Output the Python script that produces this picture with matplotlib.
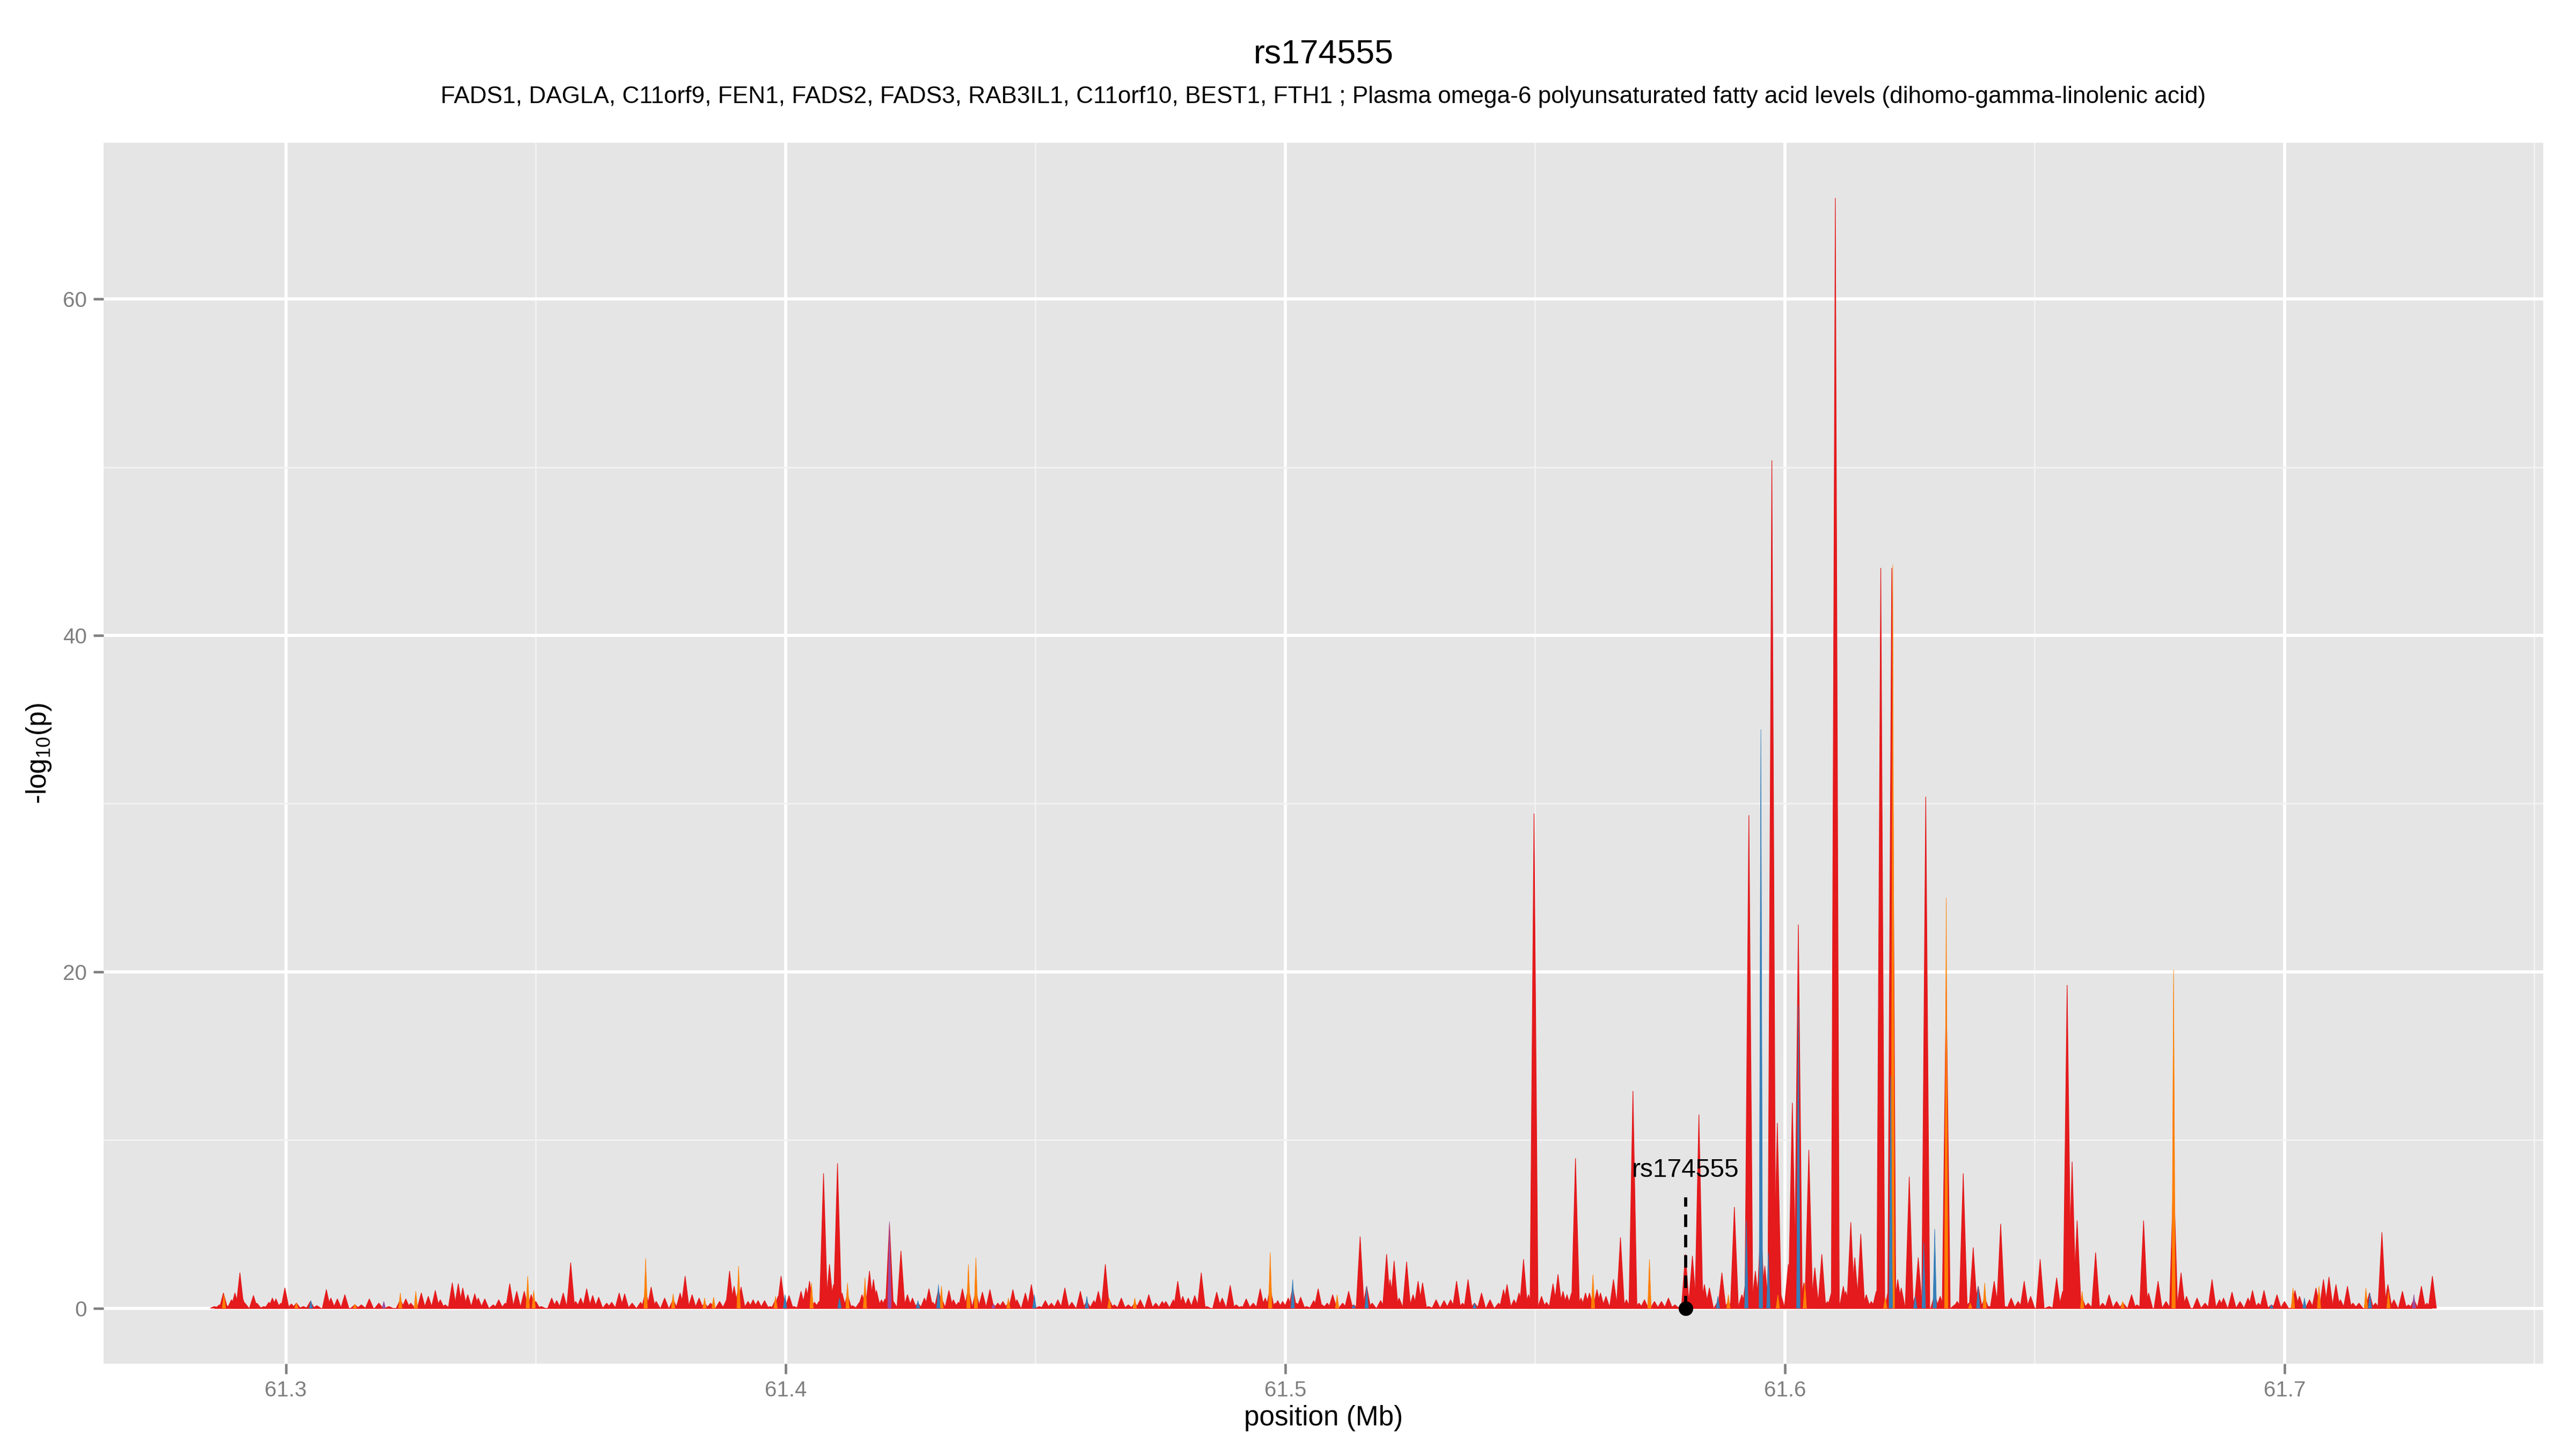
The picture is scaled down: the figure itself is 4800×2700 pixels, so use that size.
import matplotlib
matplotlib.use("Agg")
import matplotlib.pyplot as plt
from matplotlib.collections import PolyCollection

plt.rcParams['font.family'] = ['Liberation Sans', 'DejaVu Sans']
plt.rcParams['mathtext.default'] = 'regular'

# SNPs as (position in Mb, -log10 p), one list per colour class
red_snps = [
    (61.2857, 0.1), (61.2867, 0.2), (61.2875, 0.9), (61.2880, 0.2), (61.2891, 0.5), (61.2898, 0.9),
    (61.2903, 0.5), (61.2908, 2.1), (61.2913, 0.6), (61.2918, 0.3), (61.2935, 0.75), (61.2942, 0.3),
    (61.2956, 0.1), (61.2966, 0.35), (61.2973, 0.6), (61.2980, 0.55), (61.2990, 0.3), (61.2998, 1.2),
    (61.3011, 0.25), (61.3021, 0.3), (61.3035, 0.1), (61.3049, 0.4), (61.3062, 0.15), (61.3081, 1.1),
    (61.3090, 0.6), (61.3103, 0.55), (61.3118, 0.8), (61.3138, 0.2), (61.3151, 0.2), (61.3167, 0.55),
    (61.3186, 0.3), (61.3206, 0.1), (61.3229, 0.5), (61.3240, 0.55), (61.3250, 0.3), (61.3271, 0.9),
    (61.3285, 0.7), (61.3299, 1.05), (61.3309, 0.5), (61.3319, 0.2), (61.3333, 1.5), (61.3345, 1.45),
    (61.3354, 1.2), (61.3364, 0.8), (61.3378, 0.85), (61.3385, 0.6), (61.3398, 0.55), (61.3415, 0.2),
    (61.3426, 0.5), (61.3439, 0.3), (61.3448, 1.45), (61.3462, 1.0), (61.3477, 1.0), (61.3491, 0.8),
    (61.3500, 0.4), (61.3511, 0.1), (61.3532, 0.6), (61.3542, 0.45), (61.3555, 0.9), (61.3570, 2.7),
    (61.3580, 0.4), (61.3590, 0.6), (61.3602, 1.15), (61.3614, 0.75), (61.3626, 0.65), (61.3642, 0.3),
    (61.3652, 0.35), (61.3667, 0.9), (61.3678, 0.85), (61.3693, 0.3), (61.3710, 0.35), (61.3720, 1.0),
    (61.3731, 1.25), (61.3741, 0.4), (61.3758, 0.6), (61.3775, 0.5), (61.3789, 0.9), (61.3799, 1.9),
    (61.3813, 0.8), (61.3827, 0.6), (61.3838, 0.3), (61.3850, 0.3), (61.3868, 0.4), (61.3882, 0.5),
    (61.3888, 2.2), (61.3897, 1.3), (61.3906, 1.2),
    (61.3911, 1.25), (61.3925, 0.4), (61.3935, 0.5), (61.3945, 0.45), (61.3958, 0.45), (61.3969, 0.1),
    (61.3980, 0.5), (61.3985, 0.7), (61.3991, 1.9), (61.4007, 0.75), (61.4017, 0.1), (61.4031, 1.0),
    (61.4041, 1.2), (61.4048, 1.6), (61.4058, 0.35), (61.4067, 0.4), (61.4076, 8.0), (61.4088, 2.6),
    (61.4096, 1.4), (61.4104, 8.6), (61.4113, 0.9), (61.4124, 0.8), (61.4134, 0.15), (61.4148, 0.35),
    (61.4153, 0.8), (61.4159, 1.0), (61.4168, 2.2), (61.4176, 1.7), (61.4182, 1.05), (61.4192, 0.5),
    (61.4199, 0.55), (61.4208, 5.0), (61.4216, 0.4), (61.4231, 3.4), (61.4244, 0.8), (61.4254, 0.6),
    (61.4265, 0.3), (61.4278, 0.6), (61.4287, 1.15), (61.4295, 0.35), (61.4306, 1.1), (61.4312, 0.6),
    (61.4327, 1.05), (61.4336, 0.5), (61.4346, 0.35), (61.4354, 1.15), (61.4366, 1.2), (61.4381, 1.0),
    (61.4394, 0.95), (61.4409, 1.1), (61.4415, 0.25), (61.4425, 0.3), (61.4435, 0.4), (61.4446, 0.3),
    (61.4455, 1.1), (61.4463, 0.5), (61.4480, 0.9), (61.4492, 1.4), (61.4508, 0.1), (61.4520, 0.45),
    (61.4532, 0.3), (61.4545, 0.5), (61.4559, 1.2), (61.4573, 0.35), (61.4590, 1.0), (61.4603, 0.4),
    (61.4617, 0.45), (61.4626, 1.0), (61.4640, 2.6), (61.4648, 0.5), (61.4658, 0.2), (61.4672, 0.6),
    (61.4686, 0.2), (61.4699, 0.3), (61.4710, 0.5), (61.4727, 0.8), (61.4741, 0.3), (61.4754, 0.4),
    (61.4761, 0.4), (61.4776, 0.5), (61.4785, 1.6), (61.4795, 0.7), (61.4806, 0.6), (61.4819, 0.75),
    (61.4832, 2.1), (61.4843, 0.1), (61.4863, 0.95), (61.4874, 0.6), (61.4890, 1.35), (61.4902, 0.2),
    (61.4912, 0.1), (61.4922, 0.55), (61.4936, 0.3), (61.4950, 1.15), (61.4960, 0.6), (61.4970, 1.2),
    (61.4980, 0.3),
    (61.4985, 0.45), (61.4995, 0.4), (61.5006, 0.6), (61.5015, 1.2), (61.5023, 0.3), (61.5031, 0.65),
    (61.5043, 0.1), (61.5057, 0.45), (61.5066, 1.15), (61.5074, 0.2), (61.5084, 0.3), (61.5095, 0.8),
    (61.5115, 0.3), (61.5127, 1.0), (61.5137, 0.2), (61.5150, 4.25), (61.5163, 1.3), (61.5174, 0.3),
    (61.5191, 0.45), (61.5203, 3.2), (61.5210, 1.7), (61.5218, 2.8), (61.5228, 0.6), (61.5243, 2.75),
    (61.5256, 0.8), (61.5266, 1.6), (61.5275, 1.5), (61.5287, 0.1), (61.5302, 0.5), (61.5318, 0.45),
    (61.5331, 0.5), (61.5343, 1.6), (61.5355, 0.3), (61.5366, 1.7), (61.5379, 0.3), (61.5393, 0.9),
    (61.5410, 0.5), (61.5427, 0.3), (61.5437, 1.1), (61.5444, 1.4), (61.5458, 0.5), (61.5468, 0.9),
    (61.5477, 2.9), (61.5487, 0.8), (61.5498, 29.4), (61.5513, 0.7), (61.5523, 0.35), (61.5536, 1.45),
    (61.5546, 2.0), (61.5556, 1.0), (61.5564, 0.8), (61.5573, 0.9), (61.5581, 8.9), (61.5592, 0.6),
    (61.5601, 0.9), (61.5609, 0.9), (61.5624, 1.1), (61.5631, 0.9), (61.5642, 0.7), (61.5657, 1.7),
    (61.5671, 4.2), (61.5683, 0.5), (61.5696, 12.9), (61.5708, 0.3), (61.5719, 0.5), (61.5739, 0.4),
    (61.5753, 0.4), (61.5767, 0.6), (61.5780, 0.2), (61.5791, 0.1), (61.5801, 3.2), (61.5815, 3.1),
    (61.5828, 11.5), (61.5839, 1.4), (61.5849, 1.2), (61.5866, 0.4), (61.5874, 2.1), (61.5887, 0.4),
    (61.5899, 6.0), (61.5914, 0.8), (61.5923, 2.0), (61.5928, 29.3), (61.5941, 2.2), (61.5952, 5.0),
    (61.5960, 2.5), (61.5974, 50.4), (61.5985, 11.0), (61.5992, 0.8), (61.6007, 2.6), (61.6015, 12.2),
    (61.6027, 22.8), (61.6038, 1.5), (61.6048, 9.4),
    (61.6060, 2.4), (61.6068, 0.6), (61.6074, 3.2), (61.6085, 0.4), (61.6093, 0.9), (61.6101, 66.0),
    (61.6111, 0.3), (61.6117, 1.3), (61.6122, 1.0), (61.6132, 5.1), (61.6140, 3.0), (61.6152, 4.4),
    (61.6163, 0.8), (61.6173, 0.4), (61.6183, 1.0), (61.6192, 44.0), (61.6208, 1.2), (61.6214, 44.0),
    (61.6226, 1.7), (61.6233, 1.2), (61.6249, 7.8), (61.6261, 0.7), (61.6267, 3.0), (61.6282, 30.4),
    (61.6300, 0.8), (61.6311, 0.7), (61.6323, 19.0), (61.6340, 0.2), (61.6345, 0.4), (61.6357, 8.0),
    (61.6368, 0.3), (61.6377, 3.6), (61.6387, 1.3), (61.6400, 0.6), (61.6409, 0.1), (61.6419, 1.6),
    (61.6432, 5.0), (61.6442, 0.1), (61.6453, 0.6), (61.6467, 0.4), (61.6479, 1.6), (61.6492, 0.7),
    (61.6511, 2.9), (61.6529, 0.1), (61.6544, 1.8), (61.6556, 1.0), (61.6565, 19.2), (61.6575, 8.7),
    (61.6585, 5.2), (61.6595, 0.6), (61.6607, 0.3), (61.6622, 3.3), (61.6636, 0.3), (61.6649, 0.8),
    (61.6664, 0.4), (61.6677, 0.3), (61.6694, 0.8), (61.6705, 0.2), (61.6718, 5.2), (61.6728, 0.9),
    (61.6747, 1.6), (61.6763, 0.4), (61.6778, 8.0), (61.6793, 2.1), (61.6804, 0.7), (61.6825, 0.6),
    (61.6841, 0.3), (61.6855, 1.7), (61.6870, 0.5), (61.6878, 0.6), (61.6895, 0.95), (61.6911, 0.4),
    (61.6927, 0.6), (61.6936, 1.05), (61.6948, 0.3), (61.6959, 1.05), (61.6974, 0.2), (61.6985, 0.8),
    (61.7000, 0.4), (61.7021, 1.05), (61.7030, 0.7), (61.7050, 0.5), (61.7063, 1.2), (61.7078, 1.7),
    (61.7089, 1.85), (61.7103, 1.4), (61.7112, 0.5), (61.7126, 1.3), (61.7137, 0.3), (61.7149, 0.3),
    (61.7170, 0.9), (61.7182, 0.3), (61.7195, 4.5), (61.7207, 1.4), (61.7219, 0.5), (61.7236, 1.0),
    (61.7248, 0.2), (61.7259, 0.5), (61.7274, 1.3), (61.7285, 0.3), (61.7296, 1.9),
]

orange_snps = [
    (61.2876, 0.8), (61.3021, 0.3), (61.3138, 0.25), (61.3229, 0.9), (61.3260, 1.0), (61.3484, 1.9),
    (61.3496, 1.05), (61.3720, 2.96), (61.3775, 0.85), (61.3838, 0.6), (61.3856, 0.65), (61.3906, 2.5),
    (61.3980, 0.7), (61.4052, 1.5), (61.4124, 1.5), (61.4159, 1.8), (61.4312, 1.3), (61.4366, 2.6),
    (61.4381, 3.0), (61.4446, 0.6), (61.4648, 0.6), (61.4699, 0.6), (61.4970, 3.3),
    (61.5104, 0.8), (61.5616, 2.0), (61.5729, 2.9), (61.5887, 0.8), (61.5986, 0.8), (61.6040, 1.5),
    (61.6201, 0.6), (61.6216, 44.2), (61.6323, 24.4), (61.6371, 0.3), (61.6400, 1.5), (61.6595, 1.0),
    (61.6676, 0.4), (61.6778, 20.1), (61.7017, 1.2), (61.7069, 1.3), (61.7163, 1.2), (61.7208, 1.0),
]

blue_snps = [
    (61.3050, 0.45), (61.3999, 0.8), (61.4108, 0.6), (61.4265, 0.45), (61.4306, 1.4), (61.4498, 0.8),
    (61.4603, 0.7), (61.5015, 1.7), (61.5137, 0.2), (61.5163, 1.3), (61.5379, 0.3), (61.5866, 0.7),
    (61.5923, 5.2), (61.5952, 34.4), (61.5967, 3.3), (61.6027, 18.0), (61.6212, 13.8), (61.6261, 0.7),
    (61.6278, 3.9), (61.6300, 4.7), (61.6387, 1.3), (61.6974, 0.2), (61.7040, 0.6), (61.7171, 0.9),
]

purple_snps = [(61.3196, 0.4), (61.4208, 5.15), (61.4416, 0.25), (61.7259, 0.8)]

lead_snp = "rs174555"
lead_pos = 61.5801
lead_label_y = 8.2
lead_line_top = 6.6

title = "rs174555"
subtitle = ("FADS1, DAGLA, C11orf9, FEN1, FADS2, FADS3, RAB3IL1, C11orf10, BEST1, FTH1 ; "
            "Plasma omega-6 polyunsaturated fatty acid levels (dihomo-gamma-linolenic acid)")
x_ticks = [61.3, 61.4, 61.5, 61.6, 61.7]
x_minor = [61.35, 61.45, 61.55, 61.65, 61.75]
y_ticks = [0, 20, 40, 60]
y_minor = [10, 30, 50]

colors = {'red': '#E41A1C', 'orange': '#FF7F00', 'blue': '#377EB8', 'purple': '#984EA3'}


# each SNP drawn as a narrow spike from the baseline
def spikes(snps, half_width):
    return [[(pos - half_width, 0), (pos, logp), (pos + half_width, 0)] for pos, logp in snps]


fig = plt.figure(figsize=(16, 9), dpi=300)
ax = fig.add_axes([0.0402, 0.0589, 0.9471, 0.8426])
ax.set_facecolor('#E5E5E5')
for s in ax.spines.values():
    s.set_visible(False)

ax.add_collection(PolyCollection(spikes(red_snps, 0.0008), facecolors=colors['red'],
                                 edgecolors=colors['red'], linewidths=0.3, zorder=3))
for name, snps in [('orange', orange_snps), ('blue', blue_snps), ('purple', purple_snps)]:
    ax.add_collection(PolyCollection(spikes(snps, 0.00035), facecolors=colors[name],
                                     edgecolors=colors[name], linewidths=0.2, zorder=4))

all_pos = [p for p, _ in red_snps + orange_snps + blue_snps + purple_snps]
all_logp = [v for _, v in red_snps + orange_snps + blue_snps + purple_snps]
ax.hlines(0, min(all_pos), max(all_pos), color=colors['red'], lw=0.4, zorder=3)

# lead SNP marker
ax.plot([lead_pos, lead_pos], [0, lead_line_top], color='black', lw=1.4,
        ls=(0, (4, 2.5)), zorder=5)
ax.plot(lead_pos, 0, 'o', color='black', ms=5.5, zorder=6)
ax.text(lead_pos, lead_label_y, lead_snp, ha='center', va='center', fontsize=11.5, zorder=6)

lo, hi = min(all_pos), max(all_pos)
pad = 0.05 * (hi - lo)
ax.set_xlim(lo - pad, hi + pad)
ymax = max(all_logp)
ax.set_ylim(-0.05 * ymax, 1.05 * ymax)

ax.set_xticks(x_ticks)
ax.set_xticklabels([f"{t:.1f}" for t in x_ticks])
ax.set_xticks(x_minor, minor=True)
ax.set_yticks(y_ticks)
ax.set_yticks(y_minor, minor=True)
ax.grid(which='major', color='white', lw=1.4, zorder=0)
ax.grid(which='minor', color='#F2F2F2', lw=0.7, zorder=0)
ax.set_axisbelow(True)
ax.tick_params(which='major', length=4.5, width=1.1, color='#7F7F7F', labelcolor='#7F7F7F',
               labelsize=9.7, pad=3)
ax.tick_params(which='minor', length=0)

ax.set_xlabel("position (Mb)", fontsize=12.3, va='center')
ax.xaxis.set_label_coords(0.5, -0.0448)
ax.set_ylabel("-log$_{10}$(p)", fontsize=12.3, va='center')
ax.yaxis.set_label_coords(-0.0264, 0.5)

fig.text(0.5137, 0.9626, title, ha='center', va='center', fontsize=15)
fig.text(0.5137, 0.933, subtitle, ha='center', va='center', fontsize=10.6)

fig.savefig("out.png", dpi=300, facecolor='white')
